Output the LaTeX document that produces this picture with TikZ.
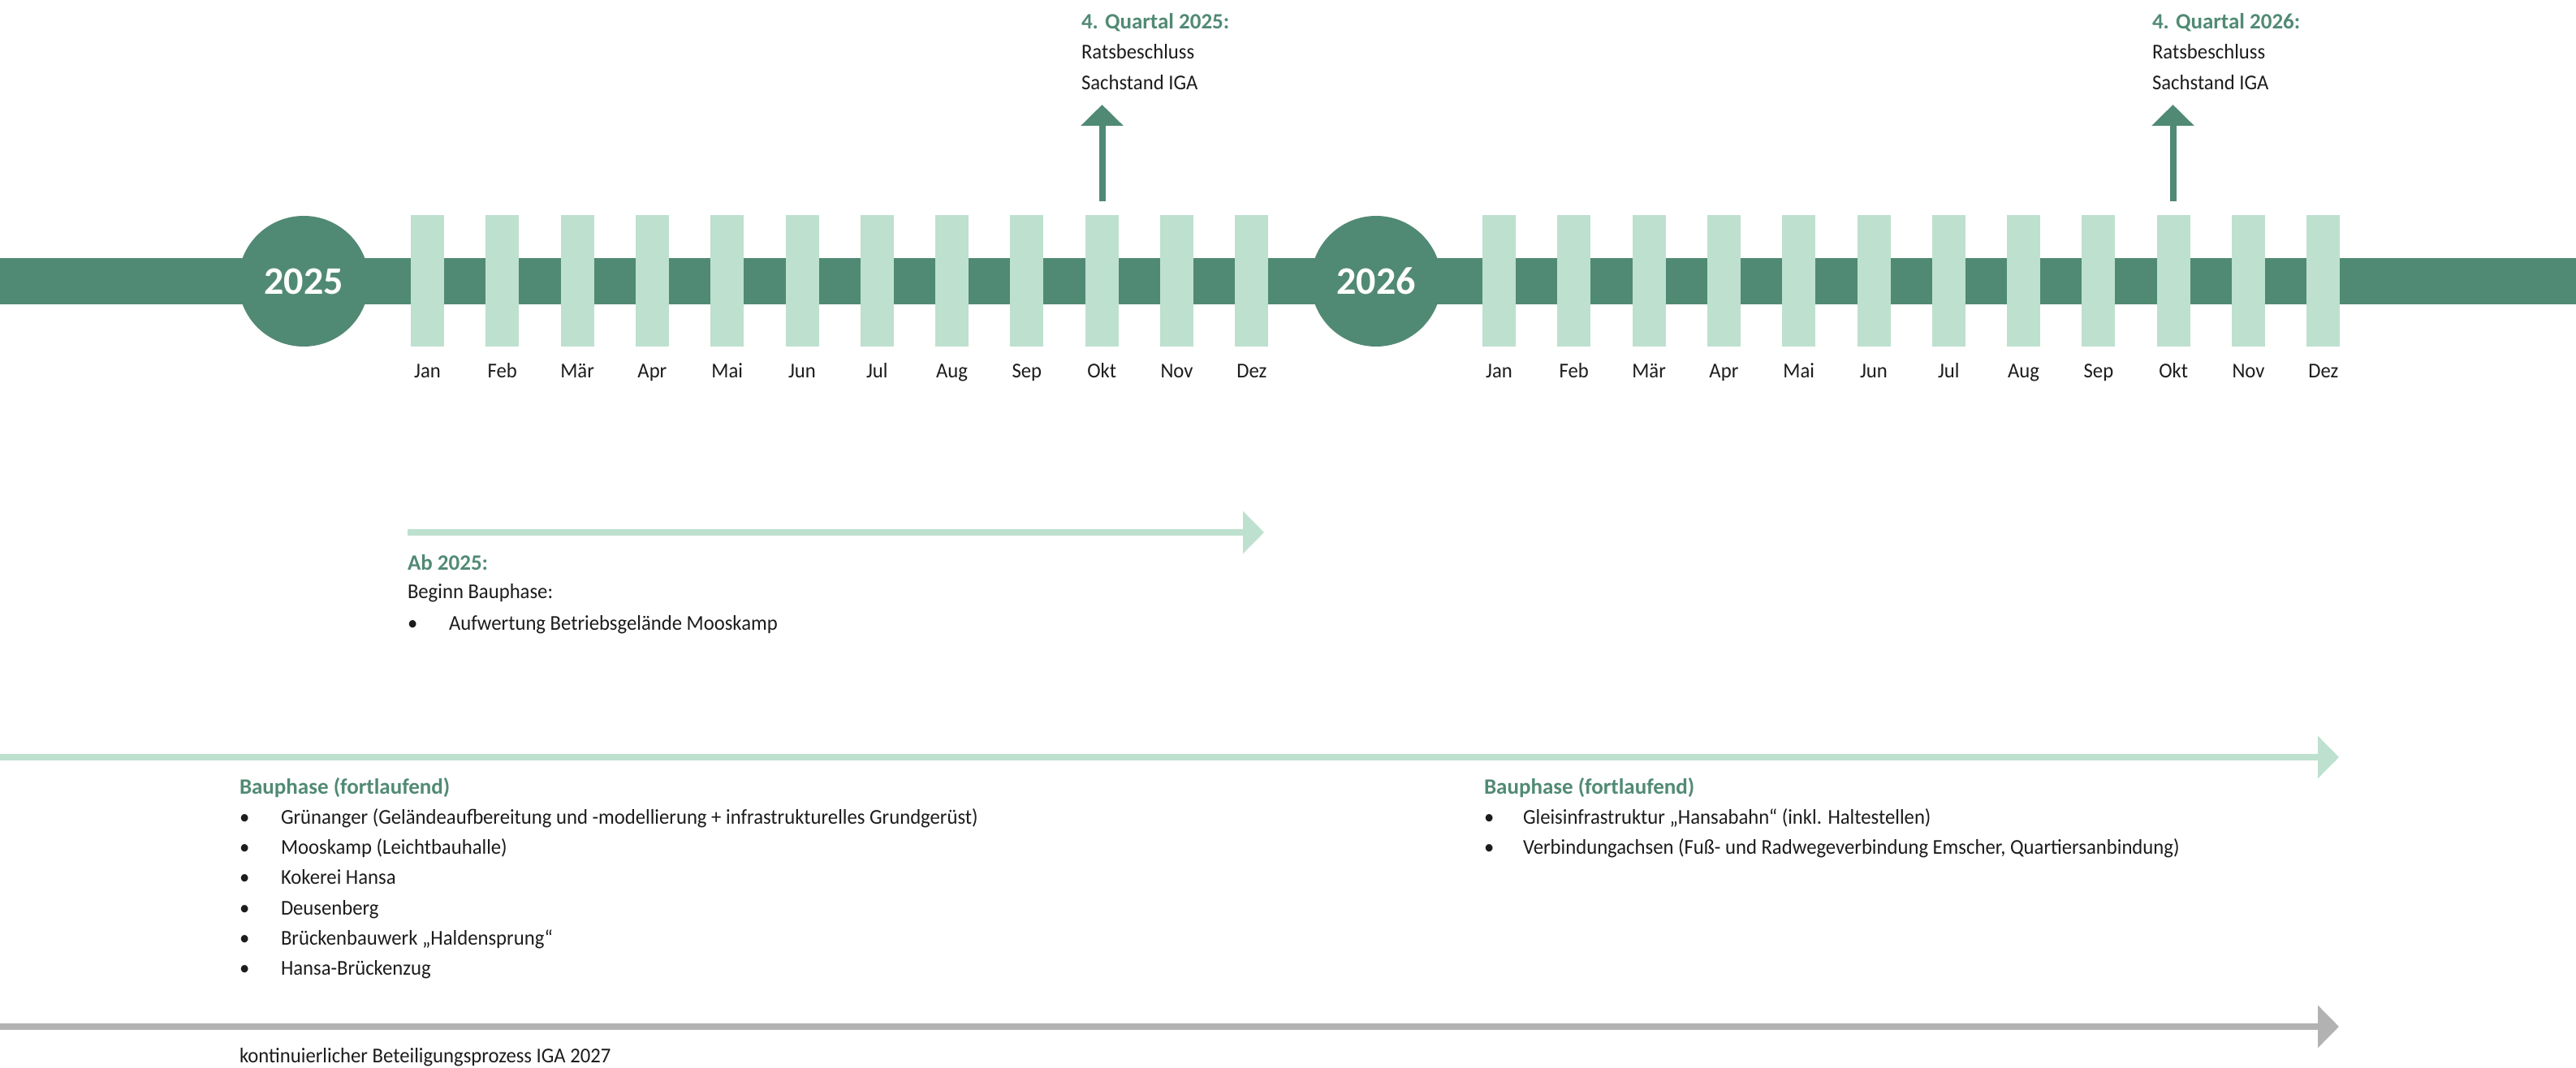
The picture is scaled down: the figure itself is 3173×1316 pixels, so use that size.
\documentclass[tikz,border=0pt]{standalone}
\usepackage{fontspec}
\setmainfont{Carlito}
\newfontfamily\igacond{Carlito}[FakeStretch=0.95]
\usetikzlibrary{arrows.meta}

\definecolor{igadark}{RGB}{81,138,116}
\definecolor{igapale}{RGB}{190,224,207}
\definecolor{igagray}{RGB}{178,178,178}
\definecolor{igaink}{RGB}{28,28,28}

\newcommand\igabody{\igacond\fontsize{26}{37}\selectfont}
\newcommand\igahead{\normalfont\fontsize{27}{37}\selectfont\bfseries}
\newcommand\igayear{\normalfont\fontsize{48}{48}\selectfont\bfseries}

\begin{document}
\begin{tikzpicture}[x=1pt,y=-1pt,
  every node/.style={inner sep=0pt,outer sep=0pt,text=igaink,font=\igabody},
  monthbar/.style={fill=igapale,minimum width=41pt,minimum height=162pt},
  yearball/.style={circle,fill=igadark,minimum size=161pt,text=white,font=\igayear},
  monthlabel/.style={anchor=base},
  headtext/.style={anchor=base west,font=\igahead,text=igadark},
  bodytext/.style={anchor=base west},
  dot/.style={anchor=base west},
  phase/.style={line width=8pt,-{Triangle[length=26pt,width=51pt]}},
  milestone/.style={line width=8pt,draw=igadark,-{Triangle[length=26pt,width=51pt]}}
]
\useasboundingbox (0,0) rectangle (3173,1316);

% main timeline band
\fill[igadark] (0,318) rectangle (3173,375);

% year markers
\node[yearball] (y25) at (374,346.5) {2025};
\node[yearball] (y26) at (1695,346.5) {2026};

% month bars and labels
\foreach \m [count=\i from 0] in {Jan,Feb,Mär,Apr,Mai,Jun,Jul,Aug,Sep,Okt,Nov,Dez}{
  \node[monthbar] (a\i) at (526.5+\i*92.3,346) {};
  \node[monthlabel] (la\i) at (526.5+\i*92.3,465) {\m};
  \node[monthbar] (b\i) at (1846.5+\i*92.3,346) {};
  \node[monthlabel] (lb\i) at (1846.5+\i*92.3,465) {\m};
}

% milestones above the band
\coordinate (q25foot) at (1357.5,248);
\coordinate (q25tip) at (1357.5,129);
\draw[milestone] (q25foot) -- (q25tip);
\node[headtext] (q25h) at (1332,35.7) {4. Quartal 2025:};
\node[bodytext] (q25a) at (1332,72.7) {Ratsbeschluss};
\node[bodytext] (q25b) at (1332,110.7) {Sachstand IGA};

\coordinate (q26foot) at (2676.5,248);
\coordinate (q26tip) at (2676.5,129);
\draw[milestone] (q26foot) -- (q26tip);
\node[headtext] (q26h) at (2651,35.7) {4. Quartal 2026:};
\node[bodytext] (q26a) at (2651,72.7) {Ratsbeschluss};
\node[bodytext] (q26b) at (2651,110.7) {Sachstand IGA};

% start of construction
\coordinate (abs) at (502,656);
\coordinate (abe) at (1557,656);
\draw[phase,draw=igapale] (abs) -- (abe);
\node[headtext] (abh) at (502,702) {Ab 2025:};
\node[bodytext] (abt) at (502,737) {Beginn Bauphase:};
\node[dot] (abd) at (502,776.7) {•};
\node[bodytext] (abi) at (553,776.7) {Aufwertung Betriebsgelände Mooskamp};

% ongoing construction
\coordinate (bps) at (0,933);
\coordinate (bpe) at (2881,933);
\draw[phase,draw=igapale] (bps) -- (bpe);
\node[headtext] (bph1) at (295,978) {Bauphase (fortlaufend)};
\foreach \t [count=\k] in {
  {Grünanger (Geländeaufbereitung und -modellierung + infrastrukturelles Grundgerüst)},
  {Mooskamp (Leichtbauhalle)},
  {Kokerei Hansa},
  {Deusenberg},
  {Brückenbauwerk „Haldensprung“},
  {Hansa-Brückenzug}}{
  \node[dot] (bpd\k) at (295,978+\k*37.3) {•};
  \node[bodytext] (bpi\k) at (346,978+\k*37.3) {\t};
}
\node[headtext] (bph2) at (1828,978) {Bauphase (fortlaufend)};
\foreach \t [count=\k] in {
  {Gleisinfrastruktur „Hansabahn“ (inkl. Haltestellen)},
  {Verbindungachsen (Fuß- und Radwegeverbindung Emscher, Quartiersanbindung)}}{
  \node[dot] (bqd\k) at (1828,978+\k*37.3) {•};
  \node[bodytext] (bqi\k) at (1876,978+\k*37.3) {\t};
}

% participation process
\coordinate (pps) at (0,1265);
\coordinate (ppe) at (2881,1265);
\draw[phase,draw=igagray] (pps) -- (ppe);
\node[bodytext] (ppt) at (295,1309) {kontinuierlicher Beteiligungsprozess IGA 2027};
\end{tikzpicture}
\end{document}
